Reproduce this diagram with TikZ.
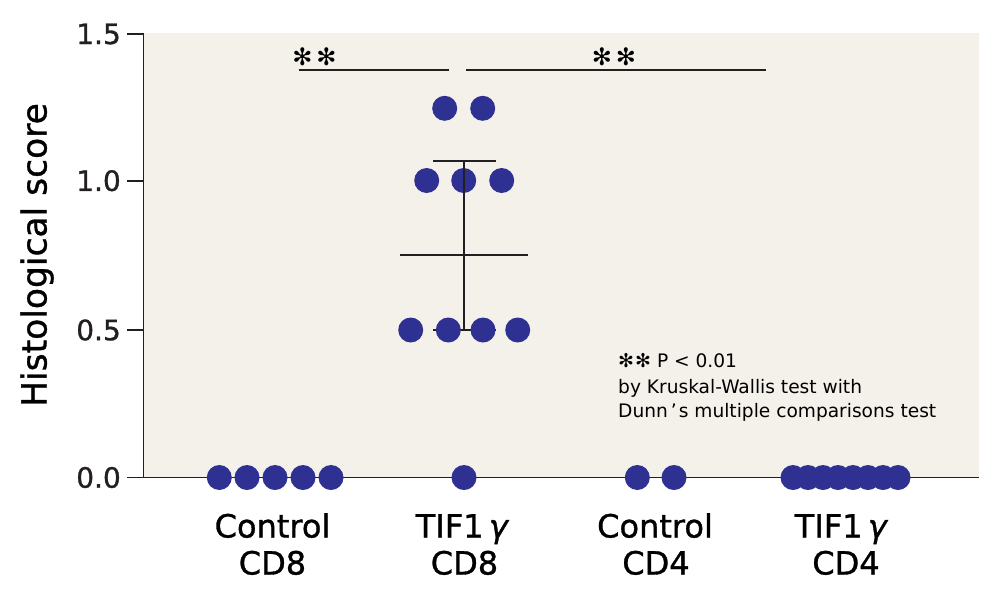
\documentclass[tikz,border=0pt]{standalone}
\usepackage{fontspec}
\setmainfont{DejaVu Sans}
\newfontfamily\medfont{DejaVu Sans}[FakeBold=1]
\newfontfamily\cjk{Noto Sans CJK JP}
\definecolor{panel}{HTML}{F4F1EA}
\definecolor{dotblue}{HTML}{2E3192}
\definecolor{ink}{HTML}{231F20}
\begin{document}
\begin{tikzpicture}[x=1pt,y=-1pt,
  axis/.style={draw=ink, line width=1.8pt},
  bar/.style={draw=ink, line width=1.8pt},
  dot/.style={circle, fill=dotblue, minimum size=25pt, inner sep=0pt},
  ticklab/.style={anchor=east, inner sep=0pt, font=\medfont\fontsize{28}{28}\selectfont, text=ink},
  catlab/.style={anchor=base, inner sep=0pt, font=\medfont\fontsize{32}{32}\selectfont, text=black},
  note/.style={anchor=base west, inner sep=0pt, font=\fontsize{18.6}{18.6}\selectfont, text=black},
  stars/.style={inner sep=0pt, font=\fontsize{24}{24}\selectfont, text=black},
  ]
\fill[white] (0,0) rectangle (1000,600);
\useasboundingbox (0,0) rectangle (1000,600);
\fill[panel] (143.5,33) rectangle (979,477.5);
% axes
\coordinate (ytop) at (143.5,33.3);
\coordinate (orig) at (143.5,477.5);
\coordinate (xend) at (979,477.5);
\draw[axis] (ytop) -- (orig) -- (xend);
\foreach \lab/\y [count=\i] in {0.0/477.5, 0.5/330, 1.0/180.7, 1.5/34} {
  \coordinate (tk\i) at (127,\y);
  \coordinate (tka\i) at (143.5,\y);
  \draw[axis] (tk\i) -- (tka\i);
  \node[ticklab] (tl\i) at (121,\y) {\lab};
}
\node[rotate=90, anchor=base, inner sep=0pt, font=\medfont\fontsize{34.5}{34.5}\selectfont] (ylab) at (46.5,255) {Histological score};
% lower cap of error bar (behind the dots)
\coordinate (lc1) at (433,330);
\coordinate (lc2) at (496,330);
\draw[bar] (lc1) -- (lc2);
% dots: Control CD8
\foreach \x [count=\i] in {219.3,247,275,303,331}
  \node[dot] (ca\i) at (\x,477.5) {};
% TIF1g CD8
\node[dot] (ta0) at (464,477.5) {};
\foreach \x [count=\i] in {410.7,448.3,483,517.7}
  \node[dot] (tb\i) at (\x,330) {};
\foreach \x [count=\i] in {426.7,463.7,501.7}
  \node[dot] (tc\i) at (\x,180.5) {};
\foreach \x [count=\i] in {444.7,482.7}
  \node[dot] (td\i) at (\x,108.3) {};
% Control CD4
\foreach \x [count=\i] in {637.3,674}
  \node[dot] (cb\i) at (\x,477.5) {};
% TIF1g CD4
\foreach \k in {0,...,7}
  \node[dot] (te\k) at (793+15*\k,477.5) {};
% mean and SD
\coordinate (eb) at (464,330);
\coordinate (et) at (464,161);
\coordinate (uc1) at (433,161);
\coordinate (uc2) at (496,161);
\coordinate (m1) at (400,255.3);
\coordinate (m2) at (527.7,255.3);
\draw[bar] (eb) -- (et);
\draw[bar] (uc1) -- (uc2);
\draw[bar] (m1) -- (m2);
% significance bars
\coordinate (s1a) at (298.7,70.3);
\coordinate (s1b) at (449,70.3);
\coordinate (s2a) at (466.3,70.3);
\coordinate (s2b) at (765.7,70.3);
\draw[bar] (s1a) -- (s1b);
\draw[bar] (s2a) -- (s2b);
\node[stars] (st1) at (314.5,57) {✻\hspace{4pt}✻};
\node[stars] (st2) at (614,56.5) {✻\hspace{4pt}✻};
% legend
\node[note] (n1) at (618,367.5) {{\fontsize{19}{19}\selectfont ✻\hspace{1pt}✻}\hspace{6pt}P < 0.01};
\node[note] (n2) at (618,393.3) {by Kruskal-Wallis test with};
\node[note] (n3) at (618,417.3) {Dunn\hspace{3pt}’\hspace{2pt}s multiple comparisons test};
% category labels
\node[catlab] (g1a) at (272.5,537.5) {Control};
\node[catlab] (g1b) at (272.5,574.5) {CD8};
\node[catlab] (g2a) at (462.5,537.5) {TIF1\,\textit{γ}};
\node[catlab] (g2b) at (464.5,574.5) {CD8};
\node[catlab] (g3a) at (655,537.5) {Control};
\node[catlab] (g3b) at (656,574.5) {CD4};
\node[catlab] (g4a) at (841.5,537.5) {TIF1\,\textit{γ}};
\node[catlab] (g4b) at (846,574.5) {CD4};
\end{tikzpicture}
\end{document}
